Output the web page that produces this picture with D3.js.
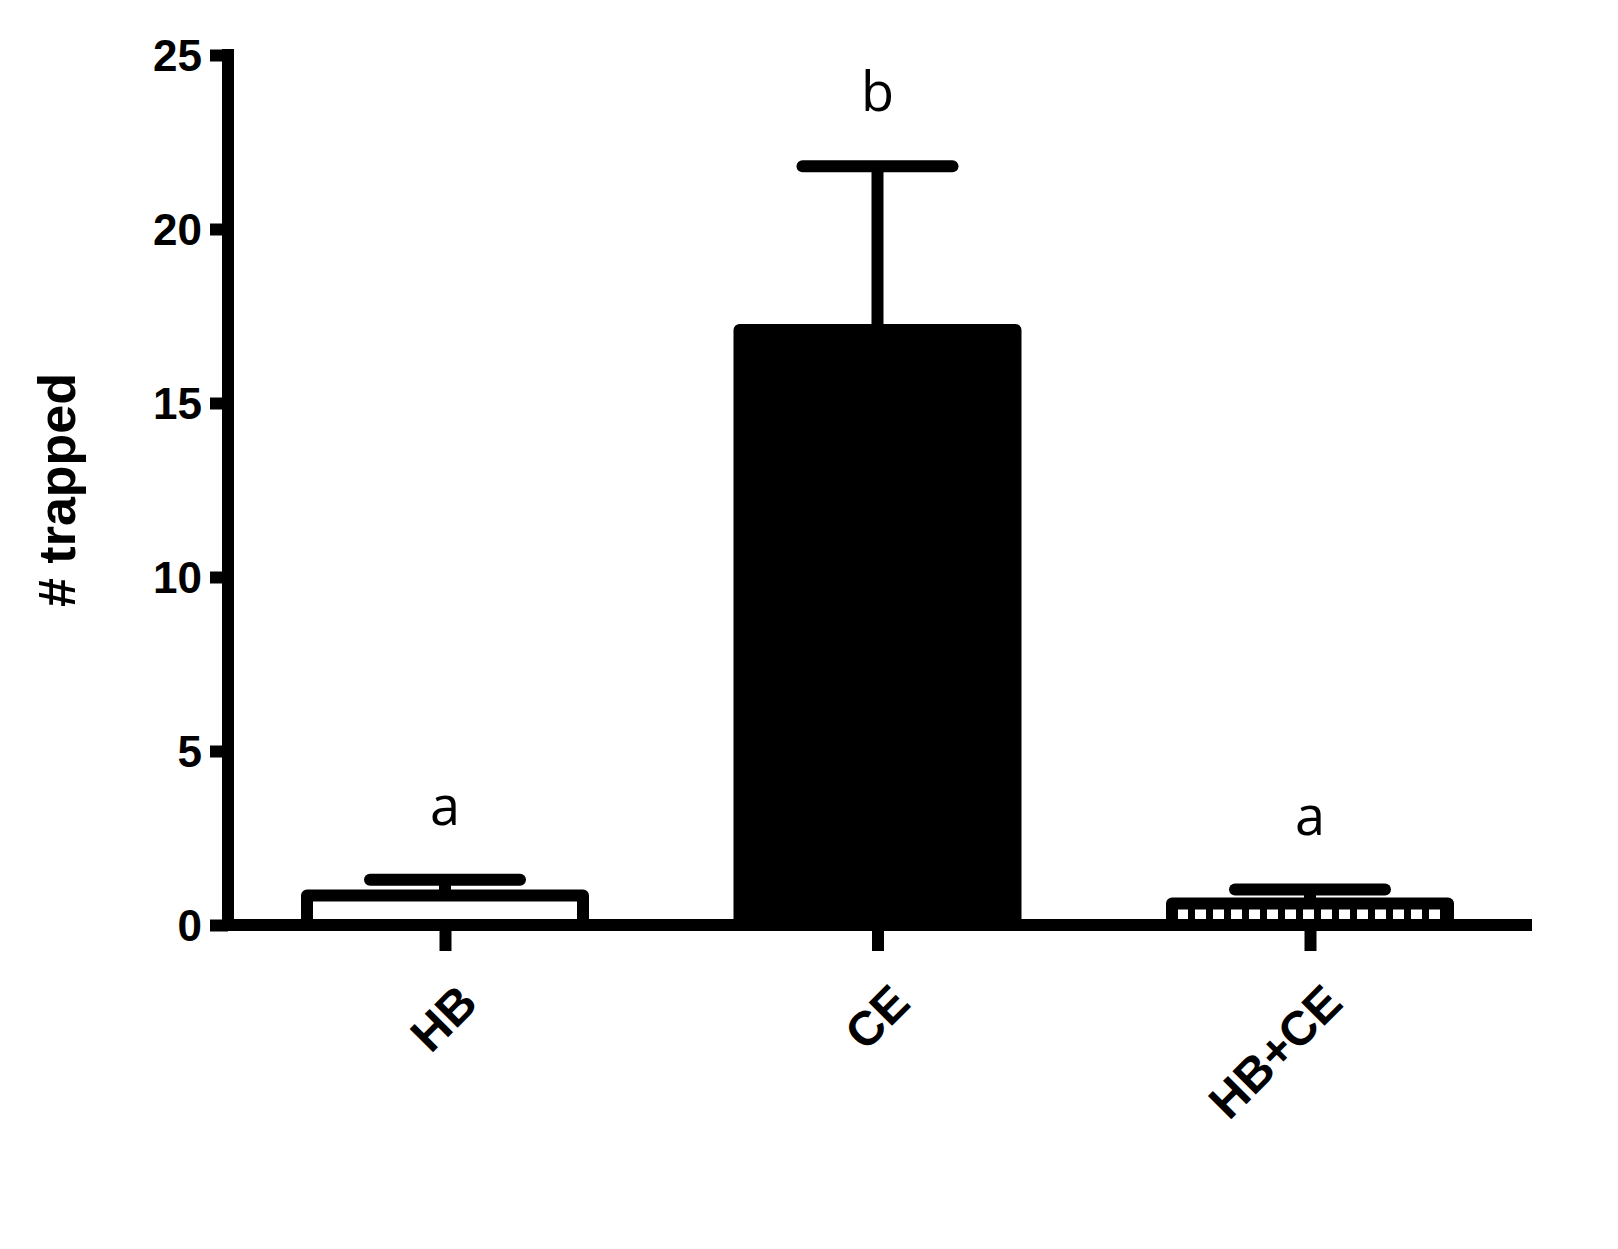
<!DOCTYPE html>
<html><head><meta charset="utf-8">
<script src="https://cdn.jsdelivr.net/npm/d3@7"></script>
<style>body{margin:0;background:#fff}</style></head>
<body><svg id="c" width="1618" height="1249"></svg>
<script>
// data
const groups = ['HB', 'CE', 'HB+CE'];
const means = [0.85, 17.1, 0.62];
const errors = [0.45, 4.7, 0.4];
const letters = ['a', 'b', 'a'];
const yTicks = [0, 5, 10, 15, 20, 25];

const svg = d3.select('#c');
const mLeft = 228, mRight = 1532, mTop = 55, mBottom = 925;
const x = d3.scalePoint().domain(groups).range([445, 1310]);
const y = d3.scaleLinear().domain([0, 25]).range([mBottom, mTop]);
const bw = 288, sw = 12;

const defs = svg.append('defs');
const pat = defs.append('pattern').attr('id', 'chk').attr('width', 18).attr('height', 10)
  .attr('patternUnits', 'userSpaceOnUse');
pat.append('rect').attr('width', 18).attr('height', 10).attr('fill', '#fff');
pat.append('rect').attr('width', 7).attr('height', 10).attr('fill', '#000');
const fills = ['#fff', '#000', 'url(#chk)'];

// error bars (upper only)
groups.forEach((g, i) => {
  const cx = x(g);
  svg.append('line').attr('x1', cx).attr('x2', cx).attr('y1', y(means[i])).attr('y2', y(means[i] + errors[i]))
    .attr('stroke', '#000').attr('stroke-width', sw);
  svg.append('line').attr('x1', cx - 75).attr('x2', cx + 75)
    .attr('y1', y(means[i] + errors[i])).attr('y2', y(means[i] + errors[i]))
    .attr('stroke', '#000').attr('stroke-width', sw).attr('stroke-linecap', 'round');
  svg.append('text').attr('x', cx).attr('y', y(means[i] + errors[i]) - 55)
    .attr('text-anchor', 'middle').attr('font-family', 'Open Sans').attr('font-size', 54)
    .text(letters[i]);
});

// bars
svg.selectAll('rect.bar').data(groups).join('rect').attr('class', 'bar')
  .attr('x', d => x(d) - bw / 2 + sw / 2).attr('width', bw - sw)
  .attr('y', (d, i) => y(means[i])).attr('height', (d, i) => mBottom - y(means[i]))
  .attr('fill', (d, i) => fills[i]).attr('stroke', '#000').attr('stroke-width', sw)
  .attr('stroke-linejoin', 'round');

// y axis
const ya = svg.append('g').attr('transform', `translate(${mLeft},0)`)
  .call(d3.axisLeft(y).tickValues(yTicks).tickSize(18).tickPadding(8));
ya.select('.domain').attr('d', `M0,${mTop - 6}V${mBottom}`).attr('stroke-width', sw);
ya.selectAll('.tick line').attr('stroke-width', sw);
ya.selectAll('text').attr('font-family', 'Liberation Sans').attr('font-weight', 'bold')
  .attr('font-size', 44).attr('dy', '0.35em');

// x axis
const xa = svg.append('g').attr('transform', `translate(0,${mBottom})`)
  .call(d3.axisBottom(x).tickSize(26).tickPadding(0));
xa.select('.domain').attr('d', `M${mLeft},0H${mRight}`).attr('stroke-width', sw);
xa.selectAll('.tick line').attr('stroke-width', sw);
xa.selectAll('text').attr('font-family', 'Liberation Sans').attr('font-weight', 'bold')
  .attr('font-size', 48).attr('text-anchor', 'end').attr('dy', 0)
  .attr('transform', 'translate(16,62) rotate(-45)');

svg.append('text').attr('transform', 'translate(75,490) rotate(-90)')
  .attr('text-anchor', 'middle').attr('font-family', 'Liberation Sans').attr('font-weight', 'bold')
  .attr('font-size', 52).text('# trapped');
</script></body></html>
